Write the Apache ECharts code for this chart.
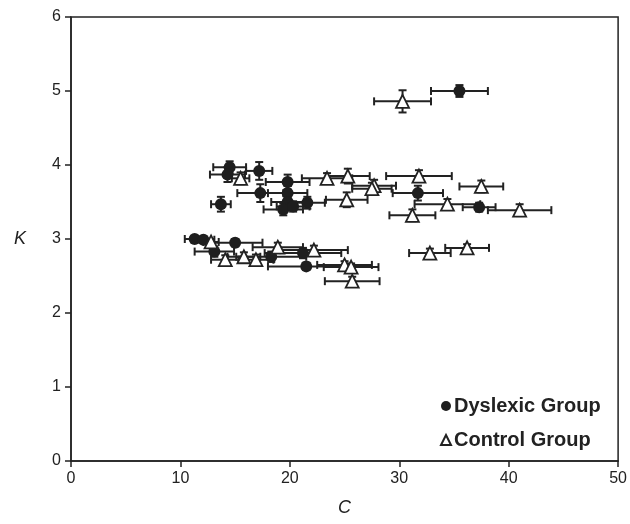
<!DOCTYPE html>
<html>
<head>
<meta charset="utf-8">
<script src="https://cdn.jsdelivr.net/npm/echarts@6/dist/echarts.min.js"></script>
<style>html,body{margin:0;padding:0;background:#fff;}#c{width:630px;height:524px;}</style>
</head>
<body>
<div id="c"></div>
<script>
// Dyslexic group
var dysC    = [35.5, 14.5, 14.3, 17.2, 13.7, 19.8, 17.3, 19.8, 19.8, 19.4, 20.3, 21.6, 31.7, 37.3, 11.3, 12.1, 15.0, 13.1, 18.3, 21.2, 21.5];
var dysK    = [5.00, 3.97, 3.87, 3.92, 3.47, 3.77, 3.62, 3.62, 3.50, 3.40, 3.44, 3.49, 3.62, 3.43, 3.00, 2.99, 2.95, 2.83, 2.76, 2.81, 2.63];
var dysCErr = [2.6, 1.5, 1.6, 1.2, 0.9, 2.0, 2.1, 1.8, 1.5, 1.8, 1.5, 1.6, 2.3, 1.5, 0.9, 1.0, 2.5, 1.8, 3.2, 3.5, 3.5];
var dysKErr = [0.08, 0.08, 0.10, 0.12, 0.10, 0.10, 0.12, 0.10, 0.08, 0.08, 0.07, 0.08, 0.10, 0.06, 0.04, 0.04, 0.05, 0.07, 0.07, 0.07, 0.05];
// Control group
var ctrlC    = [30.3, 15.5, 23.4, 25.3, 27.7, 27.5, 31.8, 37.5, 25.2, 31.2, 34.4, 41.0, 12.8, 18.9, 22.2, 14.1, 15.8, 16.9, 25.0, 25.6, 25.7, 32.8, 36.2];
var ctrlK    = [4.86, 3.82, 3.82, 3.85, 3.72, 3.68, 3.85, 3.71, 3.53, 3.32, 3.47, 3.39, 2.96, 2.89, 2.85, 2.72, 2.76, 2.72, 2.65, 2.62, 2.43, 2.81, 2.88];
var ctrlCErr = [2.6, 0.8, 2.3, 2.0, 2.0, 1.8, 3.0, 2.0, 1.9, 2.1, 3.0, 2.9, 0.7, 2.3, 3.1, 1.3, 1.5, 1.6, 2.5, 2.5, 2.5, 1.9, 2.0];
var ctrlKErr = [0.15, 0.08, 0.07, 0.10, 0.08, 0.08, 0.08, 0.08, 0.10, 0.08, 0.07, 0.08, 0.04, 0.06, 0.06, 0.06, 0.06, 0.07, 0.05, 0.05, 0.06, 0.06, 0.05];
var xTicks = [0, 10, 20, 30, 40, 50];
var yTicks = [0, 1, 2, 3, 4, 5, 6];

function zip(c, k, ec, ek) {
  var out = [];
  for (var i = 0; i < c.length; i++) out.push([c[i], k[i], ec[i], ek[i]]);
  return out;
}
var dysData = zip(dysC, dysK, dysCErr, dysKErr);
var ctrlData = zip(ctrlC, ctrlK, ctrlCErr, ctrlKErr);

var CAP = 4;
function errRender(params, api) {
  var c = api.value(0), k = api.value(1), ec = api.value(2), ek = api.value(3);
  var l = api.coord([c - ec, k]), r = api.coord([c + ec, k]);
  var t = api.coord([c, k + ek]), b = api.coord([c, k - ek]);
  var st = {stroke: '#222', lineWidth: 2};
  function ln(x1, y1, x2, y2) { return {type: 'line', shape: {x1: x1, y1: y1, x2: x2, y2: y2}, style: st}; }
  return {type: 'group', children: [
    ln(l[0], l[1], r[0], r[1]),
    ln(l[0], l[1] - CAP, l[0], l[1] + CAP),
    ln(r[0], r[1] - CAP, r[0], r[1] + CAP),
    ln(t[0], t[1], b[0], b[1]),
    ln(t[0] - CAP, t[1], t[0] + CAP, t[1]),
    ln(b[0] - CAP, b[1], b[0] + CAP, b[1])
  ]};
}

var chart = echarts.init(document.getElementById('c'), null, {renderer: 'canvas'});
chart.setOption({
  animation: false,
  backgroundColor: '#fff',
  grid: {left: 71, right: 11, top: 17, bottom: 63, show: true, borderColor: '#222', borderWidth: 1.5, backgroundColor: 'transparent'},
  xAxis: {
    type: 'value', min: xTicks[0], max: xTicks[xTicks.length - 1], interval: 10,
    name: 'C', nameLocation: 'middle', nameGap: 38,
    nameTextStyle: {fontFamily: 'Liberation Sans, Arial', fontSize: 18, fontStyle: 'italic', color: '#222'},
    axisLine: {show: true, lineStyle: {color: '#222', width: 1.5}},
    axisTick: {show: true, inside: false, length: 6, lineStyle: {color: '#222', width: 1.5}},
    axisLabel: {margin: 10, fontFamily: 'Liberation Sans, Arial', fontSize: 16, color: '#222'},
    splitLine: {show: false}
  },
  yAxis: {
    type: 'value', min: yTicks[0], max: yTicks[yTicks.length - 1], interval: 1,
    name: 'K', nameLocation: 'middle', nameGap: 45, nameRotate: 0,
    nameTextStyle: {fontFamily: 'Liberation Sans, Arial', fontSize: 18, fontStyle: 'italic', color: '#222'},
    axisLine: {show: true, lineStyle: {color: '#222', width: 1.5}},
    axisTick: {show: true, inside: false, length: 6, lineStyle: {color: '#222', width: 1.5}},
    axisLabel: {margin: 10, fontFamily: 'Liberation Sans, Arial', fontSize: 16, color: '#222'},
    splitLine: {show: false}
  },
  legend: {
    orient: 'vertical', left: 435, top: 391, itemWidth: 10, itemHeight: 10, itemGap: 14,
    textStyle: {fontFamily: 'Liberation Sans, Arial', fontSize: 20, fontWeight: 'bold', color: '#222', padding: [0, 0, 0, -2]},
    data: [
      {name: 'Dyslexic Group', icon: 'circle'},
      {name: 'Control Group', icon: 'triangle'}
    ]
  },
  series: [
    {type: 'custom', name: 'errD', renderItem: errRender, data: dysData, z: 1, encode: {x: 0, y: 1}, silent: true},
    {type: 'custom', name: 'errC', renderItem: errRender, data: ctrlData, z: 1, encode: {x: 0, y: 1}, silent: true},
    {type: 'scatter', name: 'Dyslexic Group', symbol: 'circle', symbolSize: 12, z: 3,
      itemStyle: {color: '#1e1e1e', opacity: 1}, data: dysData.map(function (d) { return [d[0], d[1]]; })},
    {type: 'scatter', name: 'Control Group', symbol: 'triangle', symbolSize: 13, z: 4,
      itemStyle: {color: '#fff', borderColor: '#222', borderWidth: 1.8, opacity: 1}, data: ctrlData.map(function (d) { return [d[0], d[1]]; })}
  ]
});
</script>
</body>
</html>
